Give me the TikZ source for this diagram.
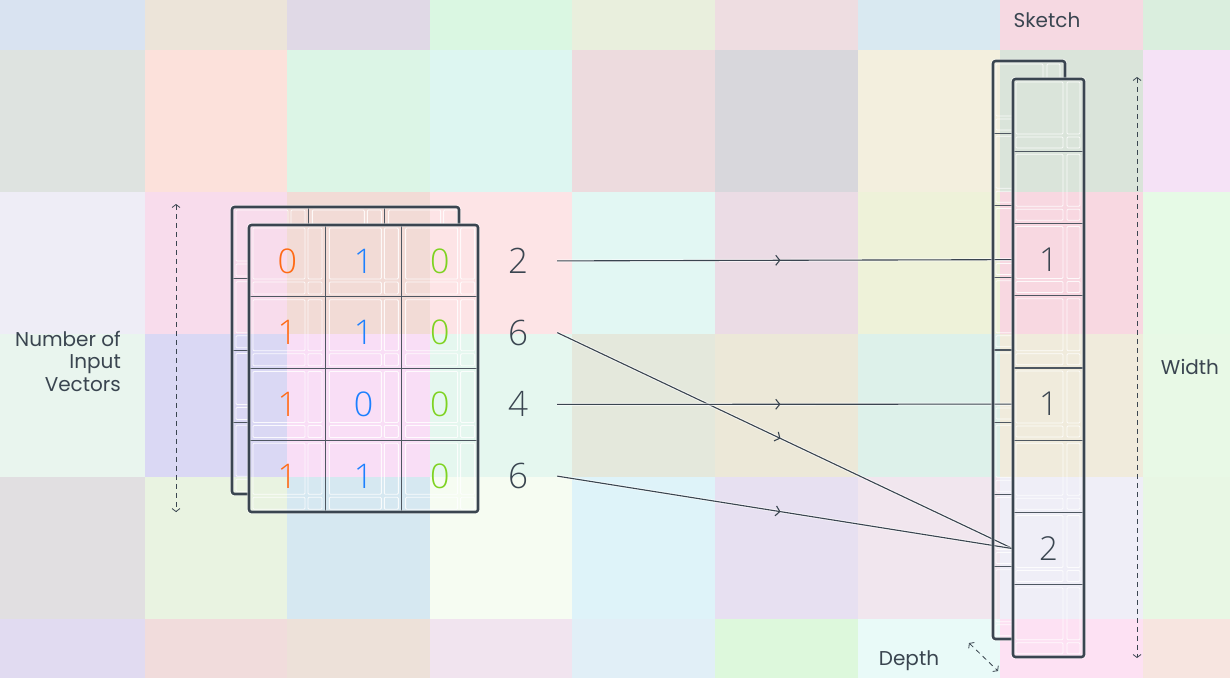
\documentclass[tikz,border=0pt]{standalone}
\usepackage{fontspec}
\setmainfont{Poppins}
\newfontfamily\numfont{Open Sans Light}
\usetikzlibrary{arrows.meta,decorations.markings}
\definecolor{dark}{HTML}{3A4550}
\definecolor{divc}{HTML}{4E5761}
\definecolor{nOr}{HTML}{FF6A14}
\definecolor{nBl}{HTML}{1C80FF}
\definecolor{nGr}{HTML}{7ED321}
% background cells c<row><col>
\definecolor{c00}{HTML}{D9E3F1}\definecolor{c01}{HTML}{ECE4D9}\definecolor{c02}{HTML}{E0D9E6}
\definecolor{c03}{HTML}{DAF7E2}\definecolor{c04}{HTML}{E9EFDD}\definecolor{c05}{HTML}{EEDDE1}
\definecolor{c06}{HTML}{D9E9F1}\definecolor{c07}{HTML}{F6D9E2}\definecolor{c08}{HTML}{DAEEDE}
\definecolor{c10}{HTML}{DEE3E0}\definecolor{c11}{HTML}{FCE1DB}\definecolor{c12}{HTML}{DCF5E6}
\definecolor{c13}{HTML}{DDF6F1}\definecolor{c14}{HTML}{EDDBDE}\definecolor{c15}{HTML}{D8D7DC}
\definecolor{c16}{HTML}{F3EFDE}\definecolor{c17}{HTML}{DAE4DA}\definecolor{c18}{HTML}{F5E2F6}
\definecolor{c20}{HTML}{EEEDF6}\definecolor{c21}{HTML}{F8DCEC}\definecolor{c22}{HTML}{F2DBD6}
\definecolor{c23}{HTML}{FDE4E6}\definecolor{c24}{HTML}{E2F7F3}\definecolor{c25}{HTML}{EBDCE5}
\definecolor{c26}{HTML}{EEF2D9}\definecolor{c27}{HTML}{F8D8E1}\definecolor{c28}{HTML}{E6FAE6}
\definecolor{c30}{HTML}{E9F5EE}\definecolor{c31}{HTML}{DAD8F4}\definecolor{c32}{HTML}{F9DEF6}
\definecolor{c33}{HTML}{E5F7EF}\definecolor{c34}{HTML}{E4E8DC}\definecolor{c35}{HTML}{ECE8D8}
\definecolor{c36}{HTML}{DDF1EA}\definecolor{c37}{HTML}{F0EBDC}\definecolor{c38}{HTML}{E8F9E6}
\definecolor{c40}{HTML}{E1DFE1}\definecolor{c41}{HTML}{E9F3E1}\definecolor{c42}{HTML}{D6E8F1}
\definecolor{c43}{HTML}{F6FCF2}\definecolor{c44}{HTML}{DEF3F9}\definecolor{c45}{HTML}{E7E0F1}
\definecolor{c46}{HTML}{F1E6EE}\definecolor{c47}{HTML}{EFEEF7}\definecolor{c48}{HTML}{E8F7E4}
\definecolor{c50}{HTML}{E1DBF1}\definecolor{c51}{HTML}{F1DCDC}\definecolor{c52}{HTML}{EDE1D9}
\definecolor{c53}{HTML}{F1E4EF}\definecolor{c54}{HTML}{E1EFF7}\definecolor{c55}{HTML}{DDF8DC}
\definecolor{c56}{HTML}{E9FAF8}\definecolor{c57}{HTML}{FDE1F3}\definecolor{c58}{HTML}{F7E5E0}
\newcommand\mcellpat{%
  \draw[innerw] (4,3) rectangle (56,54);
  \draw[innerw] (59,3) rectangle (73,54);
  \draw[innerw] (4,57) rectangle (56,69);
  \draw[innerw] (59,57) rectangle (73,69);}
\newcommand\kcellpat{%
  \draw[innerw] (3,3) rectangle (50,55);
  \draw[innerw] (54,3) rectangle (67,55);
  \draw[innerw] (3,58) rectangle (50,69);
  \draw[innerw] (54,58) rectangle (67,69);}
\begin{document}
\begin{tikzpicture}[x=1pt,y=-1pt,
  innerw/.style={draw=white,line width=0.9pt,opacity=0.85,rounded corners=1pt},
  frame/.style={draw=dark,line width=2.6pt,rounded corners=2.5pt,line join=round,
    preaction={draw=white,line width=4.4pt,opacity=0.5}},
  mdiv/.style={draw=divc,line width=1.4pt},
  bdiv/.style={draw=divc,line width=1.2pt},
  numtxt/.style={font=\numfont\fontsize{34}{34}\selectfont,inner sep=0pt},
  sumtxt/.style={font=\numfont\fontsize{35}{35}\selectfont,text=dark,inner sep=0pt,minimum width=78pt},
  kcell/.style={font=\numfont\fontsize{33}{33}\selectfont,text=dark,inner sep=0pt,
    minimum width=71pt,minimum height=72.25pt},
  lbl/.style={font=\fontsize{20}{22.5}\selectfont,text=dark,inner sep=0pt},
  conn/.style={draw=dark,line width=1.1pt,
    preaction={draw=white,line width=3pt,opacity=0.6},
    postaction={decorate},
    decoration={markings,mark=at position 0.49 with {\arrow{Straight Barb[length=4pt,width=10pt,line width=1.1pt]}}}},
  dim/.style={draw=dark,line width=0.8pt,dash pattern=on 5pt off 4pt,
    {Straight Barb[length=3pt,width=8pt,line width=0.8pt]}-{Straight Barb[length=3pt,width=8pt,line width=0.8pt]}}
]
\useasboundingbox (0,0) rectangle (1230,677);
% background grid
\foreach \c/\xa/\xb in {0/0/145,1/145/287,2/287/430,3/430/572,4/572/715,5/715/858,6/858/1000,7/1000/1143,8/1143/1230}{
  \foreach \r/\ya/\yb in {0/0/50,1/50/192,2/192/334,3/334/477,4/477/619,5/619/677}{
    \fill[c\r\c] (\xa,\ya) rectangle (\xb+0.6,\yb+0.6);}}

% ---------- back matrix (visible strips only)
\begin{scope}
  \clip (232,207) -- (459,207) -- (459,225) -- (249,225) -- (249,494) -- (232,494) -- cycle;
  \foreach \i in {0,...,3}{\foreach \j in {0,1,2}{
    \begin{scope}[shift={(232+76.33*\j,207+71.75*\i)}]\mcellpat\end{scope}}}
\end{scope}
% ---------- front matrix inner pattern
\foreach \i in {0,...,3}{\foreach \j in {0,1,2}{
  \begin{scope}[shift={(249+76.33*\j,225+71.75*\i)}]\mcellpat\end{scope}}}

% ---------- back sketch column inner pattern
\begin{scope}
  \clip (993,61) -- (1065,61) -- (1065,79) -- (1013,79) -- (1013,639) -- (993,639) -- cycle;
  \foreach \i in {0,...,7}{
    \begin{scope}[shift={(993,61+72.25*\i)}]\kcellpat\end{scope}}
\end{scope}
% ---------- front sketch column inner pattern
\foreach \i in {0,...,7}{
  \begin{scope}[shift={(1013,79+72.25*\i)}]\kcellpat\end{scope}}

% ---------- row sums and sketch cells (nodes)
\node[sumtxt] (s1) at (518,260.9) {2};
\node[sumtxt] (s2) at (518,332.6) {6};
\node[sumtxt] (s3) at (518,404.4) {4};
\node[sumtxt] (s4) at (518,476.1) {6};
\foreach \i/\t in {1/{},2/{},3/1,4/{},5/1,6/{},7/2,8/{}}{
  \node[kcell] (k\i) at (1048.5,79+72.25*\i-36.125) {\t};}

% ---------- connectors
\draw[conn] (s1.east) -- (k3.west);
\draw[conn] (s2.east) -- (k7.west);
\draw[conn] (s3.east) -- (k5.west);
\draw[conn] (s4.east) -- (k7.west);

% ---------- back matrix frame and dividers
\foreach \xx in {308.33,384.67}{\draw[bdiv] (\xx,207) -- (\xx,225);}
\foreach \yy in {278.75,350.5,422.25}{\draw[bdiv] (232,\yy) -- (249,\yy);}
\draw[frame] (249,494) -- (232,494) -- (232,207) -- (459,207) -- (459,225);
% ---------- front matrix dividers and frame
\foreach \xx in {325.33,401.67}{\draw[mdiv] (\xx,225) -- (\xx,512);}
\foreach \yy in {296.75,368.5,440.25}{\draw[mdiv] (249,\yy) -- (478,\yy);}
\draw[frame] (249,225) rectangle (478,512);

% ---------- back sketch frame and dividers
\foreach \k in {1,...,7}{\draw[bdiv] (993,61+72.25*\k) -- (1013,61+72.25*\k);}
\draw[frame] (1013,639) -- (993,639) -- (993,61) -- (1065,61) -- (1065,79);
% ---------- front sketch dividers and frame
\foreach \k in {1,...,7}{\draw[mdiv] (1013,79+72.25*\k) -- (1084,79+72.25*\k);}
\draw[frame] (1013,79) rectangle (1084,657);

% ---------- matrix digits
\foreach \i/\a/\b/\cc [count=\n] in {0/0/1/0,1/1/1/0,2/1/0/0,3/1/1/0}{
  \node[numtxt,text=nOr] (m\n a) at (287.2,260.9+71.75*\i) {\a};
  \node[numtxt,text=nBl] (m\n b) at (363.5,260.9+71.75*\i) {\b};
  \node[numtxt,text=nGr] (m\n c) at (439.8,260.9+71.75*\i) {\cc};}

% ---------- dimension arrows and labels
\coordinate (nTop) at (176,204);
\coordinate (nBot) at (176,512);
\draw[dim] (nTop) -- (nBot);
\node[lbl,align=right,anchor=east] (nlab) at (121,361) {Number of\\Input\\Vectors};
\coordinate (wTop) at (1137,77);
\coordinate (wBot) at (1137,658);
\draw[dim] (wTop) -- (wBot);
\node[lbl] (wlab) at (1190,367) {Width};
\coordinate (dA) at (969,643);
\coordinate (dB) at (998,671);
\draw[dim] (dA) -- (dB);
\node[lbl] (dlab) at (909,661) {Depth};
\node[lbl] (sklab) at (1047,20) {Sketch};
\end{tikzpicture}
\end{document}
